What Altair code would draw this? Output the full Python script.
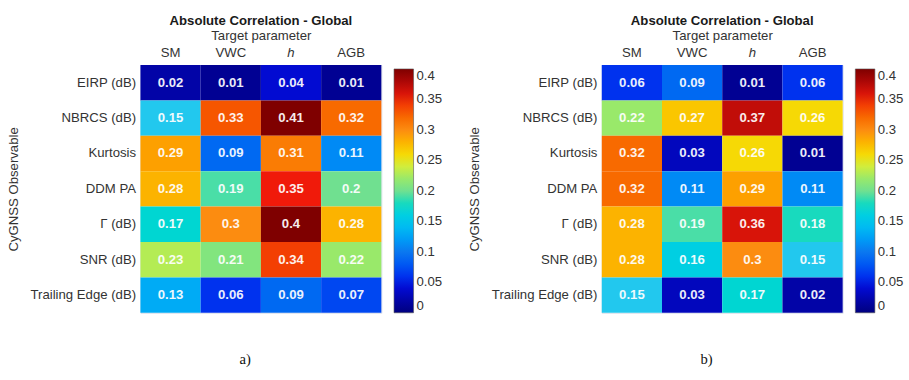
import altair as alt
import pandas as pd

rows = ["EIRP (dB)", "NBRCS (dB)", "Kurtosis", "DDM PA", "Γ (dB)", "SNR (dB)", "Trailing Edge (dB)"]
cols = ["SM", "VWC", "h", "AGB"]

vals_a = [
    [0.02, 0.01, 0.04, 0.01],
    [0.15, 0.33, 0.41, 0.32],
    [0.29, 0.09, 0.31, 0.11],
    [0.28, 0.19, 0.35, 0.2],
    [0.17, 0.3, 0.4, 0.28],
    [0.23, 0.21, 0.34, 0.22],
    [0.13, 0.06, 0.09, 0.07],
]
vals_b = [
    [0.06, 0.09, 0.01, 0.06],
    [0.22, 0.27, 0.37, 0.26],
    [0.32, 0.03, 0.26, 0.01],
    [0.32, 0.11, 0.29, 0.11],
    [0.28, 0.19, 0.36, 0.18],
    [0.28, 0.16, 0.3, 0.15],
    [0.15, 0.03, 0.17, 0.02],
]

color_stops = [0, 0.05, 0.1, 0.15, 0.2, 0.25, 0.3, 0.35, 0.4]
jet_colors = ["#00007f", "#0010e8", "#0a78f0", "#22c8ee", "#70e090",
              "#f0ec20", "#fc8c10", "#f01a0a", "#7f0000"]
legend_values = [0, 0.05, 0.1, 0.15, 0.2, 0.25, 0.3, 0.35, 0.4]

FONT = "Liberation Sans"
TXT = "#333333"
FS = 13.5


def panel(vals, tag):
    df = pd.DataFrame([
        {"obs": r, "target": c, "value": vals[i][j]}
        for i, r in enumerate(rows) for j, c in enumerate(cols)
    ])
    base = alt.Chart(df).encode(
        x=alt.X("target:N", sort=cols,
                axis=alt.Axis(orient="top", title="Target parameter", labelAngle=0,
                              labelFontStyle=alt.expr("datum.value === 'h' ? 'italic' : 'normal'"),
                              titlePadding=3, labelPadding=6)),
        y=alt.Y("obs:N", sort=rows,
                axis=alt.Axis(title="CyGNSS Observable", titlePadding=10, labelPadding=5)),
    )
    rect = base.mark_rect().encode(
        color=alt.Color("value:Q",
                        scale=alt.Scale(domain=color_stops, range=jet_colors, clamp=True),
                        legend=alt.Legend(title=None, values=legend_values,
                                          labelExpr="'' + round(datum.value * 100) / 100",
                                          gradientLength=250, gradientThickness=20,
                                          offset=9, padding=4, labelOffset=3,
                                          labelFontSize=FS, labelFont=FONT, labelColor=TXT,
                                          gradientStrokeColor="#555555", gradientStrokeWidth=0.6,
                                          direction="vertical"))
    )
    text = base.mark_text(font=FONT, fontSize=FS, fontWeight="bold", color="white",
                          opacity=0.92).encode(text=alt.Text("value:Q", format="~g"))
    layer = alt.layer(rect, text).properties(
        width=247, height=254,
        title=alt.TitleParams("Absolute Correlation - Global", anchor="middle", frame="group",
                              fontSize=FS, fontWeight="bold", font=FONT, color="#1a1a1a",
                              offset=2),
    )
    return alt.vconcat(layer).resolve_scale(color="independent").properties(
        title=alt.TitleParams(tag, orient="bottom", font="Liberation Serif", fontSize=15,
                              fontWeight="normal", color="#111111", offset=35, anchor="middle",
                              dx=19)
    )


chart = alt.hconcat(panel(vals_a, "a)"), panel(vals_b, "b)"), spacing=20).resolve_scale(
    color="independent"
).properties(
    padding={"left": 6, "top": 9, "right": 0, "bottom": 0}
).configure_axis(
    labelFont=FONT, titleFont=FONT, labelFontSize=FS, titleFontSize=FS,
    labelColor=TXT, titleColor=TXT, titleFontWeight="normal",
    ticks=False, domain=False, grid=False,
).configure_view(stroke="#d8dde8", strokeWidth=1)

chart.save("out.html", embed_options={"renderer": "svg", "actions": False})
